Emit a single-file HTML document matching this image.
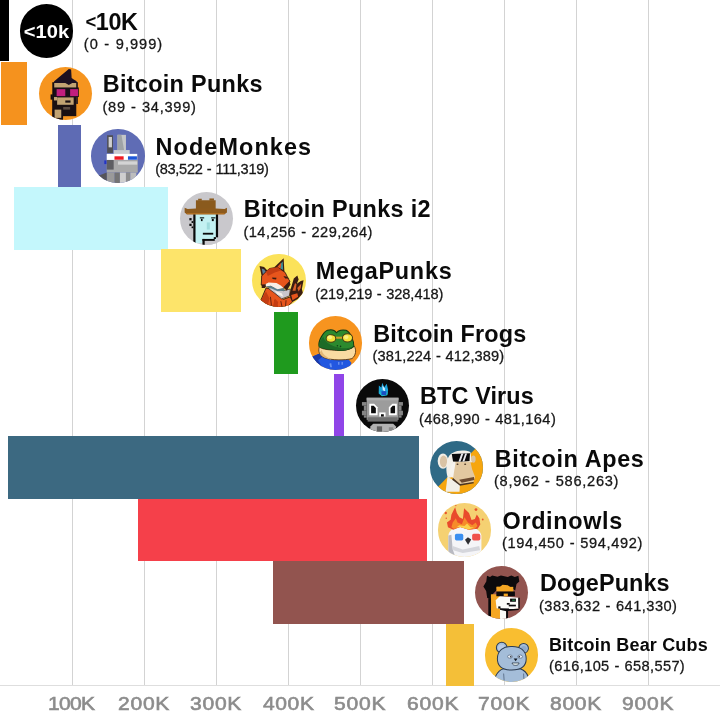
<!DOCTYPE html>
<html><head><meta charset="utf-8"><title>Bitcoin Ordinals collections by inscription range</title>
<style>
html,body{margin:0;padding:0;background:#fff;}
body{width:720px;height:720px;overflow:hidden;position:relative;font-family:"Liberation Sans",sans-serif;}
.g{position:absolute;top:0;width:1px;height:686px;background:#d3d3d3;}
.ax{position:absolute;left:0;top:685px;width:720px;height:1px;background:#dedede;}
.b{position:absolute;}
.av{position:absolute;width:53.4px;height:53.4px;border-radius:50%;overflow:hidden;}
.av svg{display:block;width:53.4px;height:53.4px;}
.t{position:absolute;white-space:nowrap;color:#0a0a0a;font-weight:bold;font-size:23.4px;line-height:26px;}
.s{position:absolute;white-space:nowrap;color:#161616;font-size:14.6px;line-height:16px;word-spacing:0.5px;-webkit-text-stroke:0.28px #161616;}
.xl{position:absolute;top:692.3px;white-space:nowrap;color:#8c8c8c;font-size:18.8px;line-height:24px;-webkit-text-stroke:0.6px #8c8c8c;transform:scaleX(1.12);transform-origin:0 0;}
</style></head><body>

<div class="g" style="left:72.00px"></div>
<div class="g" style="left:143.95px"></div>
<div class="g" style="left:215.90px"></div>
<div class="g" style="left:287.85px"></div>
<div class="g" style="left:359.80px"></div>
<div class="g" style="left:431.75px"></div>
<div class="g" style="left:503.70px"></div>
<div class="g" style="left:575.65px"></div>
<div class="g" style="left:647.60px"></div>
<div class="ax"></div>
<div class="b" style="left:0px;top:0.00px;width:9.3px;height:61.00px;background:#000000"></div>
<div class="b" style="left:1px;top:62.17px;width:26.4px;height:62.58px;background:#f5921e"></div>
<div class="b" style="left:58px;top:124.55px;width:22.700000000000003px;height:62.58px;background:#5e6bb4"></div>
<div class="b" style="left:13.75px;top:186.93px;width:154.25px;height:62.58px;background:#c4f7fc"></div>
<div class="b" style="left:160.5px;top:249.30px;width:80.75px;height:62.58px;background:#fde46a"></div>
<div class="b" style="left:273.75px;top:311.68px;width:24.25px;height:62.58px;background:#1f9a1e"></div>
<div class="b" style="left:334.3px;top:374.05px;width:9.899999999999977px;height:62.58px;background:#9045e8"></div>
<div class="b" style="left:7.6px;top:436.43px;width:411.4px;height:62.58px;background:#3c6981"></div>
<div class="b" style="left:138px;top:498.80px;width:289px;height:62.57px;background:#f5404a"></div>
<div class="b" style="left:273px;top:561.17px;width:191.25px;height:62.58px;background:#92544f"></div>
<div class="b" style="left:446.25px;top:623.55px;width:27.5px;height:62.58px;background:#f4bf38"></div>
<div class="av" style="left:19.80px;top:4.40px;background:#000"><svg viewBox="0 0 53 53"><text x="26.3" y="33.3" text-anchor="middle" font-family="Liberation Sans, sans-serif" font-weight="bold" font-size="18.5" fill="#fff" textLength="45" lengthAdjust="spacingAndGlyphs">&lt;10k</text></svg></div>
<div class="t" id="t0" style="left:85.44px;top:8.99px;font-size:23.4px;letter-spacing:-0.410px"><span style="font-size:18.5px;position:relative;top:-2.2px">&lt;</span>10K</div>
<div class="s" id="s0" style="left:83.85px;top:36.44px;letter-spacing:0.997px">(0 - 9,999)</div>
<div class="av" style="left:38.55px;top:66.77px;background:#f6951f"><svg viewBox="0 0 53 53"><rect x="14.9" y="13.8" width="23.0" height="22.8" fill="#c2a372"/><polygon points="29.6,2.0 31.9,2.6 32.4,10.8 34.5,12.5 37.1,13.8 38.0,15.8 33.0,15.8 29.6,17.9 26.1,15.8 14.9,15.8 14.9,14.3 18.0,11.7" fill="#1c1020"/><rect x="36.9" y="15.1" width="1.7" height="21.6" fill="#2a1a18"/><rect x="13.2" y="15.1" width="1.9" height="35.3" fill="#140c10"/><rect x="11.5" y="27.2" width="2.2" height="5.2" fill="#140c10"/><rect x="14.9" y="20.3" width="24.6" height="9.5" fill="#1a0f18"/><rect x="17.5" y="22.0" width="8.6" height="6.9" fill="#c21f7e"/><rect x="30.9" y="22.0" width="7.8" height="6.9" fill="#c21f7e"/><rect x="13.6" y="29.8" width="23.4" height="19.0" fill="#1a1012"/><rect x="18.0" y="30.2" width="16.4" height="7.3" fill="#c2a372"/><rect x="14.9" y="29.8" width="3.0" height="3.4" fill="#c2a372"/><rect x="26.1" y="33.2" width="5.2" height="2.2" fill="#1a1012"/><rect x="24.0" y="39.7" width="6.9" height="2.6" fill="#5a4a40"/><rect x="13.6" y="41.9" width="10.3" height="12.1" fill="#1a1012"/><rect x="15.5" y="42.3" width="6.6" height="8.2" fill="#c2a372"/></svg></div>
<div class="t" id="t1" style="left:102.69px;top:71.37px;font-size:23.4px;letter-spacing:0.325px">Bitcoin Punks</div>
<div class="s" id="s1" style="left:102.43px;top:98.82px;letter-spacing:0.743px">(89 - 34,399)</div>
<div class="av" style="left:91.40px;top:129.15px;background:#5f6cb5"><svg viewBox="0 0 53 53"><rect x="16.0" y="6.2" width="5.8" height="17.7" fill="#4f4f55"/><rect x="17.5" y="7.9" width="3.3" height="10.3" fill="#cfcfcf"/><rect x="26.3" y="5.8" width="8.4" height="15.1" fill="#c4c6c8"/><polygon points="26.3,5.8 30.2,5.8 32.8,20.9 26.3,20.9" fill="#9fa3a6"/><rect x="22.5" y="20.9" width="15.9" height="4.3" fill="#c9cbd0"/><rect x="15.6" y="30.8" width="30.8" height="12.5" fill="#a9a9a9"/><rect x="26.8" y="32.1" width="19.1" height="3.3" fill="#d4d4d4"/><rect x="15.6" y="30.8" width="6.9" height="9.5" fill="#5e5e62"/><rect x="15.6" y="24.7" width="30.3" height="6.0" fill="#ffffff"/><rect x="23.3" y="27.1" width="9.1" height="3.4" fill="#ee1c24"/><rect x="36.7" y="27.1" width="8.9" height="3.4" fill="#1f57d8"/><rect x="13.2" y="31.2" width="2.1" height="3.6" fill="#2233c8"/><rect x="15.6" y="43.3" width="7.9" height="12.1" fill="#9a9a9a"/><rect x="23.5" y="43.3" width="5.2" height="12.1" fill="#747474"/><rect x="28.7" y="43.3" width="6.0" height="12.1" fill="#cfcfcf"/><rect x="34.7" y="43.3" width="4.3" height="12.1" fill="#8d8d8d"/><rect x="39.0" y="43.3" width="6.0" height="12.1" fill="#bdbdbd"/><polygon points="6.9,46.7 15.6,43.3 15.6,55.3 6.9,55.3" fill="#55555a"/></svg></div>
<div class="t" id="t2" style="left:155.46px;top:133.74px;font-size:23.4px;letter-spacing:1.121px">NodeMonkes</div>
<div class="s" id="s2" style="left:155.15px;top:161.19px;letter-spacing:-0.305px">(83,522 - 111,319)</div>
<div class="av" style="left:179.55px;top:191.53px;background:#c9c8cc"><svg viewBox="0 0 53 53"><rect x="14.9" y="21.6" width="21.3" height="29.3" fill="#c3f1f2"/><rect x="22.3" y="47.4" width="14.7" height="6.9" fill="#c9c8cc"/><rect x="13.2" y="22.0" width="2.2" height="28.7" fill="#0a0a0a"/><rect x="35.6" y="22.0" width="2.2" height="23.0" fill="#0a0a0a"/><rect x="22.3" y="46.6" width="12.2" height="1.9" fill="#0a0a0a"/><rect x="22.3" y="46.6" width="2.2" height="6.2" fill="#0a0a0a"/><rect x="33.5" y="44.8" width="2.2" height="1.9" fill="#0a0a0a"/><rect x="20.8" y="26.7" width="1.6" height="2.2" fill="#0a0a0a"/><rect x="31.6" y="26.7" width="1.9" height="2.2" fill="#0a0a0a"/><rect x="19.7" y="25.0" width="4.3" height="1.3" fill="#23302f"/><rect x="30.9" y="25.0" width="4.3" height="1.3" fill="#23302f"/><rect x="26.6" y="30.2" width="3.0" height="7.1" fill="#9fdcdd"/><rect x="22.7" y="40.5" width="10.3" height="1.8" fill="#0a0a0a"/><rect x="9.3" y="25.9" width="2.2" height="2.2" fill="#0a0a0a"/><rect x="11.5" y="28.9" width="1.7" height="1.9" fill="#0a0a0a"/><rect x="9.3" y="31.5" width="2.2" height="2.2" fill="#0a0a0a"/><rect x="11.5" y="34.2" width="1.7" height="1.7" fill="#0a0a0a"/><rect x="15.8" y="8.2" width="19.6" height="9.5" fill="#8a5a1d"/><rect x="18.0" y="6.7" width="3.6" height="1.9" fill="#8a5a1d"/><rect x="29.2" y="6.4" width="4.5" height="2.2" fill="#8a5a1d"/><polygon points="4.6,15.7 7.6,16.8 15.8,16.4 35.6,16.4 44.2,16.8 46.6,15.7 46.6,20.3 44.2,22.0 6.7,22.0 4.6,20.3" fill="#8d5a1c"/><rect x="6.7" y="20.9" width="37.5" height="1.3" fill="#b06f22"/></svg></div>
<div class="t" id="t3" style="left:243.69px;top:196.12px;font-size:23.4px;letter-spacing:0.322px">Bitcoin Punks i2</div>
<div class="s" id="s3" style="left:243.43px;top:223.57px;letter-spacing:0.464px">(14,256 - 229,264)</div>
<div class="av" style="left:252.20px;top:253.90px;background:#fbe25a"><svg viewBox="0 0 53 53"><polygon points="7.5,11.8 12.0,13.0 17.8,19.2 9.6,22.2" fill="#3b1d12"/><polygon points="9.6,14.4 12.2,15.3 15.2,19.6 10.9,20.5" fill="#5a7f9a"/><polygon points="31.4,4.3 32.2,17.9 24.7,15.0 22.1,13.1" fill="#3b1d12"/><polygon points="30.5,7.5 30.9,15.9 27.9,14.4 28.4,9.7" fill="#3f8e98"/><polygon points="24.3,13.6 29.0,8.8 28.4,14.4" fill="#e7551c"/><polygon points="17.4,14.4 25.1,13.1 32.9,18.3 35.5,23.5 37.6,27.1 34.6,32.5 31.2,34.3 22.6,32.5 13.9,32.5 9.2,30.8 9.6,21.8 13.9,17.5" fill="#e7551c" stroke="#3b1d12" stroke-width="0.9" stroke-linejoin="round"/><polygon points="17.4,14.4 25.1,13.1 29.5,16.2 22.6,18.3 15.7,21.8 13.9,17.5" fill="#c43d12"/><polygon points="20.0,23.3 24.3,23.7 23.9,25.2 20.4,24.8" fill="#3b1d12"/><polygon points="31.2,21.8 34.6,22.6 37.2,24.3 32.9,24.3" fill="#3b1d12"/><polygon points="13.9,33.8 19.1,34.7 25.1,40.7 31.2,45.0 38.1,42.5 40.2,47.6 35.5,51.9 25.1,53.2 15.7,50.6 8.8,45.9" fill="#e7551c" stroke="#3b1d12" stroke-width="0.9" stroke-linejoin="round"/><path d="M13.1,40.7 L15.2,49.3" stroke="#5a1f0e" stroke-width="0.9"/><path d="M18.3,42.5 L19.3,51.1" stroke="#5a1f0e" stroke-width="0.9"/><path d="M22.6,45.9 L25.1,52.4" stroke="#5a1f0e" stroke-width="0.9"/><path d="M28.6,46.8 L29.9,52.8" stroke="#5a1f0e" stroke-width="0.9"/><path d="M33.8,45.9 L33.3,51.9" stroke="#5a1f0e" stroke-width="0.9"/><polygon points="13.9,37.3 17.4,44.2 15.7,50.6 8.8,45.9" fill="#c43d12"/><polygon points="22.6,44.2 26.0,47.6 25.1,53.2 20.8,51.9" fill="#c43d12"/><polygon points="15.7,33.8 22.6,33.0 31.2,36.4 38.1,34.7 37.2,41.6 29.5,44.6 22.6,39.0" fill="#c9c6cc" stroke="#3b1d12" stroke-width="0.7"/><polygon points="22.6,36.4 29.5,39.0 31.2,42.5 25.1,39.9" fill="#f4efe9"/><polygon points="12.6,30.4 16.5,28.2 24.3,28.7 28.6,31.2 31.6,34.0 25.1,35.1 18.3,31.4 13.9,32.5" fill="#f6f0e8"/><polygon points="13.9,32.5 18.3,31.4 25.1,35.1 31.6,34.0 32.9,36.4 25.1,36.8 18.3,33.8" fill="#56808f"/><polygon points="9.6,30.4 13.9,30.0 13.1,33.8 9.6,33.8" fill="#3b1d12"/><polygon points="31.2,33.0 37.2,26.9 38.1,30.4 34.6,36.4" fill="#3b1d12"/><polygon points="37.2,40.7 38.9,33.0 41.5,24.3 45.0,21.3 46.3,25.2 44.5,29.5 48.4,26.9 51.2,26.1 49.5,34.7 50.6,39.0 45.4,44.6 40.2,47.6" fill="#3b1d12"/><polygon points="40.2,36.4 42.8,28.7 44.1,30.4 43.3,36.4" fill="#d9622a"/><polygon points="45.0,33.8 48.9,29.5 48.4,33.8 46.3,37.3" fill="#d9622a"/><polygon points="38.9,40.7 45.0,39.0 45.8,42.5 40.2,45.9" fill="#e7551c"/></svg></div>
<div class="t" id="t4" style="left:315.69px;top:258.49px;font-size:23.4px;letter-spacing:0.750px">MegaPunks</div>
<div class="s" id="s4" style="left:315.15px;top:285.94px;letter-spacing:-0.050px">(219,219 - 328,418)</div>
<div class="av" style="left:308.80px;top:316.28px;background:#f7941f"><svg viewBox="0 0 53 53"><polygon points="3.0,40.5 9.9,37.5 15.1,41.4 26.3,43.5 39.2,42.9 42.2,46.6 39.2,54.3 26.3,56.0 11.6,52.6" fill="#2257e0"/><polygon points="3.0,40.5 9.9,37.5 13.3,40.5 9.0,44.0 13.3,50.9 11.6,52.6" fill="#1a3aa8"/><polygon points="20.2,47.4 22.0,46.6 22.8,50.9 21.1,50.9" fill="#6d95f0"/><polygon points="28.9,45.7 30.2,45.7 30.2,48.3 28.9,48.3" fill="#6d95f0"/><polygon points="32.3,45.7 33.6,45.7 33.6,48.3 32.3,48.3" fill="#6d95f0"/><path d="M10.3,30.6 C13.3,33.6 22.0,33.6 27.1,34.1 C34.0,34.5 41.8,33.6 44.8,29.8 C47.4,33.6 46.5,39.2 42.7,42.3 C35.8,44.1 22.0,44.1 15.1,41.4 C9.9,38.8 8.9,34.5 10.3,30.6 Z" fill="#f9dba2" stroke="#5a3a18" stroke-width="0.9"/><path d="M10.8,36.2 C11.6,39.7 15.1,41.8 22.0,43.1 C16.8,40.5 13.3,37.9 12.5,33.6 Z" fill="#e3b777"/><path d="M9.9,30.2 C8.9,24.1 14.6,15.7 18.3,14.2 C22.0,13.2 25.6,14.2 27.3,16.6 C29.0,14.1 33.3,13.2 36.8,14.2 C41.4,16.4 44.5,24.1 44.5,30.2 C40.9,33.8 32.3,34.7 27.1,33.8 C20.2,32.9 13.3,32.9 9.9,30.2 Z" fill="#2b8a2e" stroke="#123a14" stroke-width="1"/><path d="M9.9,30.2 C9.9,26.7 11.6,23.3 14.2,20.7 C15.9,26.7 22.0,30.2 32.3,31.9 C36.6,32.3 41.8,31.5 44.5,30.2 C40.9,33.8 32.3,34.7 27.1,33.8 C20.2,32.9 13.3,32.9 9.9,30.2 Z" fill="#1d6b27"/><rect x="25.8" y="20.5" width="8.6" height="2.1" fill="#c9a227"/><ellipse cx="21.8" cy="22.3" rx="4.8" ry="3.8" fill="#f4e23c" stroke="#4a3a10" stroke-width="1"/><ellipse cx="38.2" cy="21.7" rx="5.0" ry="4.1" fill="#f4e23c" stroke="#4a3a10" stroke-width="1"/><ellipse cx="20.7" cy="21.1" rx="2.2" ry="1.9" fill="#fbf184"/><ellipse cx="37.0" cy="20.9" rx="2.2" ry="1.9" fill="#fbf184"/><ellipse cx="28.2" cy="29.5" rx="0.8" ry="0.8" fill="#0f3d16"/><ellipse cx="31.3" cy="30.2" rx="0.8" ry="0.8" fill="#0f3d16"/></svg></div>
<div class="t" id="t5" style="left:373.25px;top:320.87px;font-size:23.4px;letter-spacing:0.190px">Bitcoin Frogs</div>
<div class="s" id="s5" style="left:372.43px;top:348.32px;letter-spacing:0.145px">(381,224 - 412,389)</div>
<div class="av" style="left:355.55px;top:378.65px;background:#0a0a0a"><svg viewBox="0 0 53 53"><polygon points="22.7,6.5 25.1,8.4 26.1,3.7 28.0,8.2 30.5,4.6 31.9,10.8 31.1,16.2 25.7,17.0 22.5,14.4" fill="#1aa3dc"/><polygon points="22.7,10.8 24.0,15.1 26.1,16.9 30.9,16.0 31.7,12.5 29.2,15.6 25.7,15.6" fill="#22c9c0"/><polygon points="26.1,6.1 28.5,9.1 29.0,12.1 26.6,11.2" fill="#d7ecff"/><rect x="25.3" y="12.1" width="4.7" height="3.9" fill="#1b4fc4"/><rect x="10.6" y="18.6" width="31.6" height="22.0" fill="#9c9c9c"/><rect x="10.6" y="18.6" width="31.6" height="2.6" fill="#ababab"/><rect x="11.5" y="38.0" width="29.9" height="4.3" fill="#6f6f6f"/><rect x="5.9" y="22.9" width="4.7" height="3.6" fill="#858585"/><rect x="7.8" y="26.5" width="2.8" height="5.0" fill="#858585"/><rect x="5.9" y="31.5" width="4.7" height="4.5" fill="#858585"/><rect x="42.3" y="22.9" width="4.3" height="3.6" fill="#858585"/><rect x="42.3" y="26.5" width="2.9" height="5.0" fill="#858585"/><rect x="42.3" y="31.5" width="4.3" height="4.5" fill="#858585"/><rect x="7.8" y="36.0" width="2.8" height="2.4" fill="#858585"/><rect x="42.3" y="36.0" width="2.9" height="2.4" fill="#858585"/><polygon points="13.2,24.6 18.0,24.6 21.4,28.1 21.4,36.0 13.2,36.0" fill="#ffffff"/><polygon points="15.0,26.5 17.5,26.5 19.7,28.9 19.7,34.1 15.0,34.1" fill="#0a0a0a"/><polygon points="40.5,24.6 36.1,24.6 32.6,28.1 32.6,36.0 40.5,36.0" fill="#ffffff"/><polygon points="38.8,26.5 36.5,26.5 34.3,28.9 34.3,34.1 38.8,34.1" fill="#0a0a0a"/><rect x="23.1" y="33.2" width="6.2" height="4.1" fill="#ffffff"/><rect x="24.8" y="35.0" width="2.8" height="2.3" fill="#0a0a0a"/><polygon points="14.5,47.0 17.1,44.4 36.9,44.4 39.5,47.0 41.2,55.6 12.8,55.6" fill="#b2b2b2"/><rect x="20.7" y="47.0" width="5.2" height="5.2" fill="#5f5f5f"/><rect x="32.6" y="47.9" width="4.3" height="3.4" fill="#8a8a8a"/></svg></div>
<div class="t" id="t6" style="left:420.04px;top:383.24px;font-size:23.4px;letter-spacing:0.140px">BTC Virus</div>
<div class="s" id="s6" style="left:418.98px;top:410.69px;letter-spacing:0.422px">(468,990 - 481,164)</div>
<div class="av" style="left:430.05px;top:441.03px;background:#2f6a86"><svg viewBox="0 0 53 53"><polygon points="45.3,7.4 66.0,7.4 66.0,64.3 5.6,64.3 5.6,47.9" fill="#f6a60f"/><polygon points="17.3,35.8 29.8,41.9 29.3,50.5 15.5,50.5" fill="#f1eee6"/><ellipse cx="12.9" cy="19.9" rx="5.3" ry="7.6" fill="#f1eee6"/><ellipse cx="13.4" cy="20.3" rx="3.6" ry="5.9" fill="#d8c3a5"/><path d="M17.7,17.7 C19.4,10.0 31.5,7.4 40.1,10.8 L41.8,21.2 L25.4,22.9 L22.9,35.8 L17.7,36.7 C15.5,29.8 16.0,23.7 17.7,17.7 Z" fill="#f3f0e9"/><ellipse cx="43.1" cy="17.9" rx="2.2" ry="3.6" fill="#d8c3a5"/><polygon points="22.9,20.3 40.1,20.3 41.8,28.1 44.8,35.8 43.1,40.6 29.8,43.1 22.9,37.5 21.6,29.8" fill="#e2c8a0"/><polygon points="22.9,20.3 25.4,21.2 22.9,36.7 18.6,31.5" fill="#f6f3ee"/><polygon points="21.6,13.0 39.7,12.1 39.2,19.9 29.8,20.7 22.9,20.3" fill="#0b0b0d"/><polygon points="31.1,12.5 33.2,12.4 30.2,20.5 28.2,20.6" fill="#e9e9ee"/><polygon points="34.9,12.4 36.8,12.3 34.1,20.3 32.2,20.4" fill="#e9e9ee"/><polygon points="28.9,38.4 43.6,35.8 44.0,38.8 31.5,41.4" fill="#6b4a30"/><polygon points="22.9,36.7 29.8,42.7 43.1,40.6 43.6,41.9 29.8,44.4 22.0,38.4" fill="#4a3626"/><ellipse cx="27.3" cy="23.1" rx="1.0" ry="0.8" fill="#4a3626"/><ellipse cx="34.9" cy="23.1" rx="1.0" ry="0.8" fill="#4a3626"/></svg></div>
<div class="t" id="t7" style="left:494.72px;top:445.62px;font-size:23.4px;letter-spacing:0.636px">Bitcoin Apes</div>
<div class="s" id="s7" style="left:493.98px;top:473.07px;letter-spacing:0.717px">(8,962 - 586,263)</div>
<div class="av" style="left:437.70px;top:503.40px;background:#f5d172"><svg viewBox="0 0 53 53"><path d="M10.3,54.7 L10.3,32.3 C10.8,26.3 17.7,23.3 26.3,23.7 C34.9,23.3 42.2,26.3 43.1,32.3 L43.1,54.7 Z" fill="#f5f5f8"/><polygon points="10.3,32.3 13.3,31.5 14.6,46.1 17.7,54.7 10.3,54.7" fill="#b9bac2"/><polygon points="14.6,42.7 24.5,46.1 30.6,44.8 40.9,42.7 41.8,47.0 30.6,48.7 24.5,49.6 15.1,47.0" fill="#d5d6dc"/><polygon points="9.9,24.1 8.9,19.4 12.5,16.6 13.3,11.6 17.0,4.1 18.7,9.9 21.3,14.2 24.7,16.0 25.9,5.2 30.8,9.9 33.3,16.8 36.6,16.0 38.5,11.5 41.1,15.1 42.0,21.3 39.4,25.6 30.6,26.5 22.0,23.9 15.1,26.5" fill="#e94a2c"/><polygon points="13.3,24.1 14.6,19.4 17.7,15.1 19.4,19.4 23.7,21.1 26.3,14.2 29.7,19.4 34.0,22.0 37.5,19.4 39.2,22.8 36.6,25.6 30.6,26.5 22.0,23.9 15.9,25.9" fill="#f68b2a"/><polygon points="18.5,24.1 21.1,22.0 26.3,22.8 28.9,20.3 32.3,24.1 35.8,24.1 30.6,26.3 22.0,23.9" fill="#fbd24b"/><ellipse cx="7.7" cy="9.9" rx="1.2" ry="1.2" fill="#e8552c"/><ellipse cx="37.7" cy="6.5" rx="1.4" ry="1.4" fill="#e8552c"/><ellipse cx="44.4" cy="16.4" rx="0.9" ry="0.9" fill="#e8552c"/><ellipse cx="8.2" cy="15.1" rx="0.7" ry="0.7" fill="#e8552c"/><ellipse cx="17.7" cy="2.6" rx="0.7" ry="0.7" fill="#e8552c"/><rect x="16.8" y="30.6" width="8.3" height="6.6" rx="1.6" fill="#3b8ff0"/><rect x="33.9" y="30.6" width="8.1" height="6.6" rx="1.6" fill="#f0524c"/><polygon points="29.7,33.9 33.0,36.2 29.9,41.4 26.8,36.4" fill="#2f2f33"/></svg></div>
<div class="t" id="t8" style="left:502.58px;top:507.99px;font-size:23.4px;letter-spacing:0.654px">Ordinowls</div>
<div class="s" id="s8" style="left:502.09px;top:535.44px;letter-spacing:0.610px">(194,450 - 594,492)</div>
<div class="av" style="left:474.55px;top:565.77px;background:#92544f"><svg viewBox="0 0 53 53"><polygon points="11.9,9.8 14.9,10.8 17.1,9.5 22.3,10.6 25.7,9.5 32.6,10.8 36.1,9.5 39.5,10.8 43.1,9.8 44.0,15.3 41.2,17.9 39.9,24.2 35.2,21.2 22.3,21.2 20.7,24.8 17.3,28.2 16.4,32.5 12.1,31.7 11.1,24.8 8.3,20.3 11.2,15.3" fill="#0c0a0c"/><rect x="21.4" y="20.7" width="16.6" height="4.9" fill="#f5a623"/><polygon points="21.4,20.7 24.8,20.7 27.4,18.6 32.6,19.0 35.2,21.2 38.0,22.9 21.4,22.9" fill="#f5a623"/><rect x="15.8" y="28.1" width="9.5" height="24.1" fill="#f5a623"/><rect x="13.2" y="31.9" width="2.7" height="17.8" fill="#0c0a0c"/><polygon points="24.8,29.8 43.0,31.5 43.5,42.0 30.9,43.7 21.4,42.0 20.5,34.1" fill="#fbfbf8"/><rect x="24.8" y="43.1" width="6.2" height="10.8" fill="#fbfbf8"/><rect x="21.2" y="25.3" width="18.4" height="4.7" fill="#0c0a0c"/><rect x="28.5" y="27.4" width="4.1" height="2.6" fill="#f5a623"/><rect x="43.0" y="31.5" width="1.4" height="10.8" fill="#0c0a0c"/><polygon points="24.8,41.9 43.4,42.3 43.4,43.7 30.9,44.9 24.8,43.4" fill="#0c0a0c"/><rect x="30.9" y="44.4" width="1.9" height="9.5" fill="#0c0a0c"/><rect x="34.8" y="32.4" width="5.8" height="3.1" fill="#0c0a0c"/><rect x="36.9" y="33.2" width="2.6" height="1.6" fill="#1b6a3c"/><rect x="31.6" y="36.7" width="2.8" height="1.7" fill="#0c0a0c"/><rect x="33.5" y="38.4" width="7.1" height="1.7" fill="#0c0a0c"/><rect x="23.1" y="40.1" width="2.2" height="2.2" fill="#0c0a0c"/></svg></div>
<div class="t" id="t9" style="left:540.04px;top:570.37px;font-size:23.4px;letter-spacing:0.106px">DogePunks</div>
<div class="s" id="s9" style="left:538.98px;top:597.82px;letter-spacing:0.489px">(383,632 - 641,330)</div>
<div class="av" style="left:484.90px;top:628.15px;background:#f9be30"><svg viewBox="0 0 53 53"><path d="M10.1,48.7 C12.7,43.1 15.3,41.1 18.5,40.5 L34.9,40.5 C39.0,41.8 41.8,45.2 43.1,48.7 L43.1,58.2 L10.1,58.2 Z" fill="#a4bdd9" stroke="#2c3c52" stroke-width="1"/><ellipse cx="16.6" cy="19.5" rx="5.3" ry="5.3" fill="#a4bdd9" stroke="#2c3c52" stroke-width="1"/><ellipse cx="16.4" cy="19.8" rx="3.4" ry="3.4" fill="#b9cbe4"/><ellipse cx="38.3" cy="20.2" rx="4.8" ry="4.8" fill="#a4bdd9" stroke="#2c3c52" stroke-width="1"/><ellipse cx="38.6" cy="20.7" rx="2.9" ry="2.9" fill="#8fa9c9"/><path d="M12.3,30.6 C12.3,22.0 18.3,18.1 26.5,18.3 C34.7,18.1 40.9,22.0 40.9,30.6 C40.9,37.5 36.4,41.8 26.5,41.8 C16.6,41.8 12.3,37.5 12.3,30.6 Z" fill="#a4bdd9" stroke="#2c3c52" stroke-width="1"/><ellipse cx="24.8" cy="28.4" rx="2.4" ry="1.6" fill="#e8eef6" stroke="#34465e" stroke-width="0.5"/><ellipse cx="34.9" cy="28.4" rx="2.4" ry="1.6" fill="#e8eef6" stroke="#34465e" stroke-width="0.5"/><ellipse cx="25.6" cy="28.6" rx="0.8" ry="0.8" fill="#1c2433"/><ellipse cx="34.0" cy="28.6" rx="0.8" ry="0.8" fill="#1c2433"/><polygon points="28.5,30.4 32.3,30.4 30.4,33.0" fill="#111822"/><path d="M26.9,34.7 L33.8,34.7 C33.8,37.9 26.9,37.9 26.9,34.7 Z" fill="#e9f3f3" stroke="#1f2c3d" stroke-width="0.7"/><path d="M18.5,45.2 L19.0,52.1" stroke="#34465e" stroke-width="0.6" fill="none"/><path d="M38.3,45.2 L38.7,52.1" stroke="#34465e" stroke-width="0.6" fill="none"/></svg></div>
<div class="t" id="t10" style="left:548.88px;top:631.61px;font-size:18px;letter-spacing:0.175px">Bitcoin Bear Cubs</div>
<div class="s" id="s10" style="left:549.11px;top:658.19px;letter-spacing:0.356px">(616,105 - 658,557)</div>
<div class="xl" id="x1" style="left:48.00px;letter-spacing:-0.600px">100K</div>
<div class="xl" id="x2" style="left:118.30px;letter-spacing:0.667px">200K</div>
<div class="xl" id="x3" style="left:189.95px;letter-spacing:0.660px">300K</div>
<div class="xl" id="x4" style="left:262.80px;letter-spacing:0.533px">400K</div>
<div class="xl" id="x5" style="left:334.25px;letter-spacing:0.740px">500K</div>
<div class="xl" id="x6" style="left:406.50px;letter-spacing:0.693px">600K</div>
<div class="xl" id="x7" style="left:478.15px;letter-spacing:0.687px">700K</div>
<div class="xl" id="x8" style="left:550.40px;letter-spacing:0.647px">800K</div>
<div class="xl" id="x9" style="left:622.15px;letter-spacing:0.680px">900K</div>
</body></html>
